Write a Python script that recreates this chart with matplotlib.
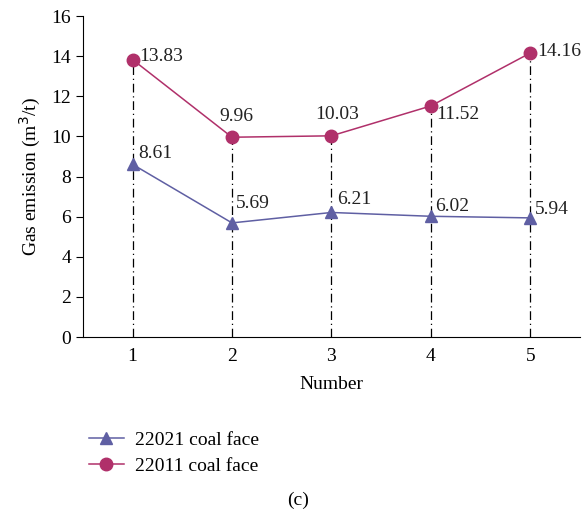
import numpy as np
import matplotlib.pyplot as plt

plt.rcParams['font.family'] = ['Liberation Serif', 'DejaVu Serif']

numbers = [1, 2, 3, 4, 5]
face_22021 = [8.61, 5.69, 6.21, 6.02, 5.94]
face_22011 = [13.83, 9.96, 10.03, 11.52, 14.16]
yticks = [0, 2, 4, 6, 8, 10, 12, 14, 16]

blue = '#5f5fa3'
red = '#b0306a'
fs = 14

fig = plt.figure(figsize=(5.83, 5.17), dpi=100)
ax = fig.add_axes([0.142, 0.348, 0.853, 0.621])

# dash-dot drop lines from the upper point down to zero
for x, top in zip(numbers, np.maximum(face_22021, face_22011)):
    ax.plot([x, x], [0, top], color='black', lw=0.9, ls=(0, (7, 3, 1, 3)), zorder=1)

l1, = ax.plot(numbers, face_22021, color=blue, lw=1.1, marker='^', ms=9,
              label='22021 coal face', zorder=3)
l2, = ax.plot(numbers, face_22011, color=red, lw=1.1, marker='o', ms=9,
              label='22011 coal face', zorder=3)

# value labels (offsets in points)
off_blue = [(4, 2), (3, 8), (4, 3), (3, 1), (3, 0)]
off_red = [(5, 2), (-9, 9), (-12, 9), (4, -6), (5, 1)]
for x, y, o in zip(numbers, face_22021, off_blue):
    ax.annotate(f'{y:.2f}', (x, y), xytext=o, textcoords='offset points',
                fontsize=fs, color='#222222', va='bottom', ha='left')
for x, y, o in zip(numbers, face_22011, off_red):
    ax.annotate(f'{y:.2f}', (x, y), xytext=o, textcoords='offset points',
                fontsize=fs, color='#222222', va='bottom' if o[1] > 5 else 'center', ha='left')

ax.set_xlim(0.5, 5.5)
ax.set_ylim(0, 16)
ax.set_xticks(numbers)
ax.set_yticks(yticks)
ax.tick_params(axis='x', length=0, labelsize=fs, pad=8)
ax.tick_params(axis='y', length=5, labelsize=fs, direction='out')
ax.spines['top'].set_visible(False)
ax.spines['right'].set_visible(False)
ax.set_xlabel('Number', fontsize=fs, labelpad=8)
ax.set_ylabel('Gas emission (m$^3$/t)', fontsize=fs, labelpad=6)

fig.legend(handles=[l1, l2], loc='upper left', bbox_to_anchor=(0.122, 0.2),
           frameon=False, fontsize=fs, handlelength=1.8, handletextpad=0.6,
           labelspacing=0.45)
fig.text(0.511, 0.033, '(c)', fontsize=fs, ha='center', va='center')

fig.savefig('out.png', dpi=100)
